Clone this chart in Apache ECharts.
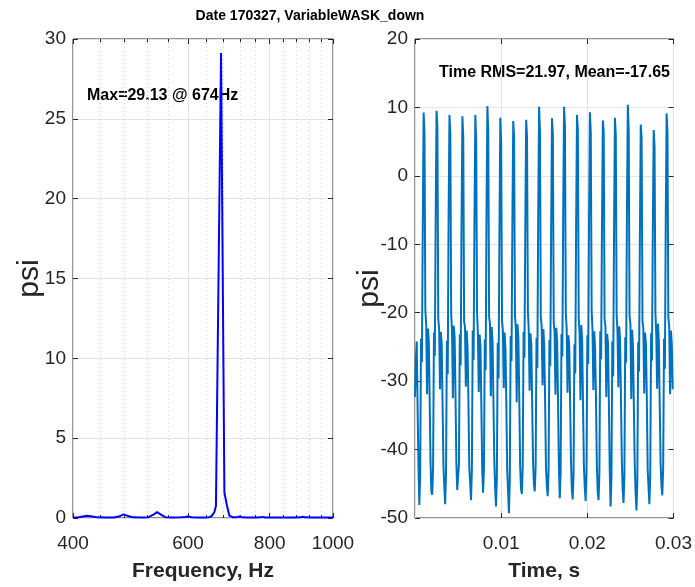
<!DOCTYPE html>
<html>
<head>
<meta charset="utf-8">
<title>Date 170327, VariableWASK_down</title>
<script src="https://cdn.jsdelivr.net/npm/echarts@6/dist/echarts.min.js"></script>
<style>
  html, body { margin: 0; padding: 0; background: #ffffff; }
  #chart { width: 695px; height: 587px; }
</style>
</head>
<body>
<div id="chart"></div>
<script>
// ---- data ---------------------------------------------------------------
const figureTitle = 'Date 170327, VariableWASK_down';

// amplitude spectrum (psi) versus frequency (Hz)
const spectrumFreqHz = [400, 408, 414, 421, 428, 436, 450, 462, 470, 478, 486, 494,
  510, 522, 530, 538, 546, 554, 570, 585, 594, 600, 608, 620, 636, 646, 652, 658,
  662, 674, 682, 688, 694, 702, 712, 719, 726, 740, 760, 774, 781, 788, 810, 840,
  870, 892, 899, 906, 930, 960, 1000];
const spectrumPsi = [0.03, 0.05, 0.10, 0.14, 0.10, 0.04, 0.03, 0.03, 0.09, 0.23, 0.12, 0.04,
  0.03, 0.05, 0.19, 0.37, 0.20, 0.05, 0.03, 0.04, 0.07, 0.09, 0.05, 0.03, 0.03, 0.05, 0.12, 0.35,
  0.75, 29.13, 1.60, 0.80, 0.15, 0.05, 0.04, 0.09, 0.04, 0.03, 0.03, 0.04, 0.07, 0.03, 0.03, 0.03,
  0.03, 0.04, 0.08, 0.04, 0.03, 0.03, 0.03];
const freqMajorTicks = [400, 600, 800, 1000];
const freqMinorTicks = [440, 480, 520, 560, 640, 680, 720, 760, 840, 880, 920, 960];

// pressure trace, one sample every 0.1 ms
const sampleInterval = 0.0001;
const pressurePsi = [
  -32.3, -26.8, -24.2, -33.6, -42.4,
  -48.1, -43.9, -23.8, -27.2, -7.9, 9.25, 6.4, -19.6, -21.8, -31.9, -22.3, -24.1, -32.6, -41.7, -46.2,
  -46.6, -42.5, -22.9, -26.3, -6.2, 9.5, 7.1, -20.9, -22.4, -31.2, -22.8, -24.6, -33.4, -42.3, -45.4,
  -48.0, -43.6, -24.1, -29.0, -5.8, 8.9, 6.2, -20.2, -22.9, -32.5, -21.9, -23.6, -32.1, -41.9, -45.9,
  -45.8, -42.1, -23.2, -27.7, -7.1, 8.7, 5.6, -21.3, -22.1, -30.8, -22.6, -25.2, -33.0, -42.6, -44.8,
  -47.4, -43.0, -22.6, -26.9, -6.6, 8.9, 5.2, -19.9, -23.1, -31.6, -23.2, -24.8, -33.7, -42.8,
  -46.3, -42.8, -23.9, -28.4, -4.9, 10.2, 6.5, -20.6, -21.6, -32.2, -22.1, -24.3, -32.8, -41.4, -45.6,
  -48.3, -44.2, -24.4, -29.6, -8.3, 8.5, 4.8, -21.1, -22.7, -31.0, -22.9, -25.4, -33.3, -42.9, -46.0,
  -49.3, -44.6, -23.4, -27.1, -6.9, 8.0, 5.7, -20.4, -22.2, -33.1, -21.7, -23.9, -32.4, -42.2, -45.7,
  -46.5, -42.6, -22.8, -26.6, -7.4, 8.2, 5.7, -19.8, -22.6, -31.4, -23.0, -24.7, -33.6, -41.8, -45.1,
  -46.1, -42.4, -23.7, -28.1, -5.4, 10.1, 6.6, -20.7, -21.9, -30.6, -22.4, -25.0, -32.9, -42.5, -45.3,
  -46.8, -43.1, -24.0, -27.8, -7.7, 8.4, 6.0, -21.5, -22.8, -32.0, -22.2, -24.4, -33.2, -42.7,
  -47.1, -43.3, -23.1, -26.4, -5.1, 10.1, 7.2, -20.1, -22.3, -31.7, -23.3, -24.9, -32.7, -41.6, -45.8,
  -47.3, -43.5, -24.6, -28.9, -6.8, 8.9, 6.6, -20.8, -23.0, -32.8, -21.8, -24.2, -33.5, -42.4, -45.5,
  -47.5, -43.2, -23.3, -27.5, -6.1, 9.3, 6.2, -19.7, -22.5, -31.3, -22.7, -25.3, -32.3, -42.0, -46.1,
  -47.4, -43.4, -22.7, -26.8, -7.2, 8.1, 6.5, -21.0, -22.0, -32.3, -23.1, -24.5, -33.1, -43.0,
  -48.3, -44.0, -24.2, -29.3, -8.0, 8.5, 5.9, -20.3, -22.8, -30.9, -22.0, -24.0, -32.5, -41.5, -45.9,
  -47.8, -43.7, -23.6, -27.3, -4.7, 10.4, 6.6, -20.5, -21.7, -32.6, -22.5, -25.1, -33.8, -42.1, -46.3,
  -48.9, -44.8, -24.3, -28.6, -8.6, 7.5, 5.5, -21.2, -22.4, -31.8, -22.9, -24.6, -32.2, -42.8, -45.4,
  -48.0, -43.8, -23.0, -27.0, -7.6, 6.7, 4.3, -20.0, -23.2, -31.1, -21.6, -24.3, -33.4, -41.9, -45.2,
  -46.7, -42.7, -23.8, -28.2, -6.4, 9.1, 6.3, -20.6, -22.1, -31.9, -22.6, -24.6, -31.2
];
const timeNote = 'Time RMS=21.97, Mean=-17.65';

// ---- styling --------------------------------------------------------------
const FONT = "'Liberation Sans', Arial, Helvetica, sans-serif";
const INK = '#262626';
const MAJOR_GRID = '#e4e4e4';
const MINOR_GRID = '#cfcfcf';

const spectrumData = spectrumFreqHz.map((f, i) => [f, spectrumPsi[i]]);
const pressureData = pressurePsi.map((v, i) => [i * sampleInterval, v]);

let peakIdx = 0;
spectrumPsi.forEach((v, i) => { if (v > spectrumPsi[peakIdx]) peakIdx = i; });
const spectrumNote = 'Max=' + spectrumPsi[peakIdx].toFixed(2) + ' @ ' + spectrumFreqHz[peakIdx] + 'Hz';

const tickLabel = { color: INK, fontSize: 19, fontFamily: FONT };
const axisNameStyle = { color: INK, fontFamily: FONT };
const hiddenLine = { show: false, onZero: false };

function tickOnly(extra) {
  return Object.assign({
    axisLine: hiddenLine,
    axisLabel: { show: false },
    splitLine: { show: false },
    axisTick: { show: true, inside: true, length: 5, lineStyle: { color: INK, width: 1 } }
  }, extra);
}

const freqBase = { type: 'log', logBase: 10, min: 400, max: 1000, gridIndex: 0 };

const option = {
  animation: false,
  backgroundColor: '#ffffff',
  grid: [
    { left: 73, top: 39, width: 260, height: 484, show: true, borderColor: INK, borderWidth: 1, backgroundColor: 'transparent' },
    { left: 415, top: 39, width: 260, height: 484, show: true, borderColor: INK, borderWidth: 1, backgroundColor: 'transparent' }
  ],
  xAxis: [
    Object.assign({}, freqBase, {
      position: 'bottom',
      axisLine: hiddenLine,
      axisTick: { show: true, inside: true, length: 5, customValues: freqMajorTicks, lineStyle: { color: INK } },
      axisLabel: Object.assign({ customValues: freqMajorTicks, margin: 16, formatter: v => String(Math.round(v)) }, tickLabel),
      splitLine: { show: true, lineStyle: { color: MAJOR_GRID, width: 1 } },
      name: 'Frequency, Hz', nameLocation: 'middle', nameGap: 43, nameMoveOverlap: false,
      nameTextStyle: Object.assign({ fontSize: 21, fontWeight: 'bold' }, axisNameStyle)
    }),
    Object.assign({}, freqBase, {
      position: 'bottom',
      axisLine: hiddenLine,
      axisLabel: { show: false },
      axisTick: { show: true, inside: true, length: 3, customValues: freqMinorTicks, lineStyle: { color: INK } },
      splitLine: { show: true, lineStyle: { color: MINOR_GRID, width: 1, type: [1, 3] } }
    }),
    Object.assign({}, freqBase, tickOnly({ position: 'top' }), {
      axisTick: { show: true, inside: true, length: 5, customValues: freqMajorTicks, lineStyle: { color: INK } }
    }),
    Object.assign({}, freqBase, tickOnly({ position: 'top' }), {
      axisTick: { show: true, inside: true, length: 3, customValues: freqMinorTicks, lineStyle: { color: INK } }
    }),
    {
      gridIndex: 1, type: 'value', min: 0, max: 0.03, interval: 0.01, position: 'bottom',
      axisLine: hiddenLine,
      axisTick: { show: true, inside: true, length: 5, lineStyle: { color: INK } },
      axisLabel: Object.assign({
        margin: 16, showMinLabel: false,
        formatter: v => (v === 0 ? '' : v.toFixed(2))
      }, tickLabel),
      splitLine: { show: true, lineStyle: { color: MAJOR_GRID, width: 1 } },
      name: 'Time, s', nameLocation: 'middle', nameGap: 43, nameMoveOverlap: false,
      nameTextStyle: Object.assign({ fontSize: 21, fontWeight: 'bold' }, axisNameStyle)
    },
    tickOnly({ gridIndex: 1, type: 'value', min: 0, max: 0.03, interval: 0.01, position: 'top' })
  ],
  yAxis: [
    {
      gridIndex: 0, type: 'value', min: 0, max: 30, interval: 5, position: 'left',
      axisLine: hiddenLine,
      axisTick: { show: true, inside: true, length: 5, lineStyle: { color: INK } },
      axisLabel: Object.assign({ margin: 7 }, tickLabel),
      splitLine: { show: true, lineStyle: { color: MAJOR_GRID, width: 1 } },
      name: 'psi', nameLocation: 'middle', nameGap: 28, nameRotate: 90, nameMoveOverlap: false,
      nameTextStyle: Object.assign({ fontSize: 30 }, axisNameStyle)
    },
    tickOnly({ gridIndex: 0, type: 'value', min: 0, max: 30, interval: 5, position: 'right' }),
    {
      gridIndex: 1, type: 'value', min: -50, max: 20, interval: 10, position: 'left',
      axisLine: hiddenLine,
      axisTick: { show: true, inside: true, length: 5, lineStyle: { color: INK } },
      axisLabel: Object.assign({ margin: 7 }, tickLabel),
      splitLine: { show: true, lineStyle: { color: MAJOR_GRID, width: 1 } },
      name: 'psi', nameLocation: 'middle', nameGap: 30, nameRotate: 90, nameMoveOverlap: false,
      nameTextStyle: Object.assign({ fontSize: 30, padding: [0, 20, 0, 0] }, axisNameStyle)
    },
    tickOnly({ gridIndex: 1, type: 'value', min: -50, max: 20, interval: 10, position: 'right' })
  ],
  series: [
    {
      name: 'spectrum', type: 'line', xAxisIndex: 0, yAxisIndex: 0,
      data: spectrumData, showSymbol: false, symbol: 'none',
      lineStyle: { color: '#0000ff', width: 2 }, itemStyle: { color: '#0000ff' }
    },
    {
      name: 'pressure', type: 'line', xAxisIndex: 4, yAxisIndex: 2,
      data: pressureData, showSymbol: false, symbol: 'none',
      lineStyle: { color: '#0072bd', width: 2 }, itemStyle: { color: '#0072bd' }
    }
  ],
  graphic: [
    { type: 'text', x: 310, y: 16, style: { text: figureTitle, fill: '#000', font: 'bold 14px ' + FONT, textAlign: 'center', textVerticalAlign: 'middle' } },
    { type: 'text', x: 87, y: 96, style: { text: spectrumNote, fill: '#000', font: 'bold 16px ' + FONT, textAlign: 'left', textVerticalAlign: 'middle' } },
    { type: 'text', x: 670, y: 73, style: { text: timeNote, fill: '#000', font: 'bold 16px ' + FONT, textAlign: 'right', textVerticalAlign: 'middle' } }
  ]
};

const chart = echarts.init(document.getElementById('chart'), null, { renderer: 'canvas' });
chart.setOption(option);
</script>
</body>
</html>
